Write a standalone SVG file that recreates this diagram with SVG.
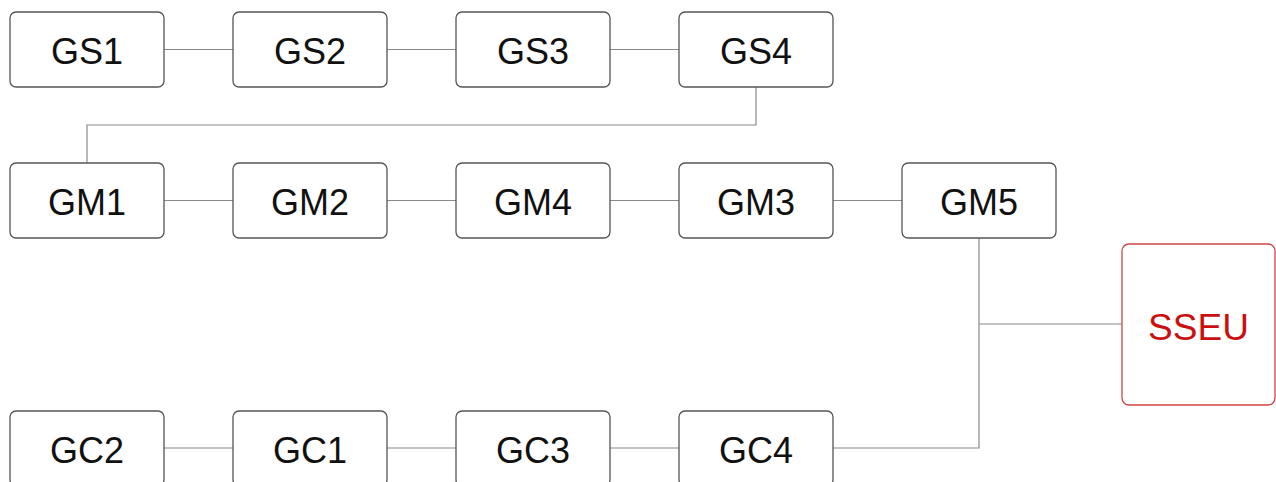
<svg xmlns="http://www.w3.org/2000/svg" width="1276" height="482" viewBox="0 0 1276 482">
<style>
.box{fill:#fff;stroke:#555;stroke-width:1.3}
.red{fill:#fff;stroke:#d04545;stroke-width:1.3}
.t{font-family:"Liberation Sans",Arial,sans-serif;font-size:36px;fill:#111;text-anchor:middle}
.tr{font-family:"Liberation Sans",Arial,sans-serif;font-size:37px;fill:#cc0e0e;text-anchor:middle}
.c{fill:none;stroke:#8a8a8a;stroke-width:1.2}
</style>
<rect width="1276" height="482" fill="#fff"/>
<g id="connectors">
<path class="c" d="M164 49.5H233M387 49.5H456M610 49.5H679"/>
<path class="c" d="M756 87V125H87V163"/>
<path class="c" d="M164 200.5H233M387 200.5H456M610 200.5H679M833 200.5H902"/>
<path class="c" d="M979 238V448H833M979 324H1122"/>
<path class="c" d="M164 448H233M387 448H456M610 448H679"/>
</g>
<g id="GS1"><rect class="box" x="10" y="12" width="154" height="75" rx="6"/><text class="t" x="87" y="64">GS1</text></g>
<g id="GS2"><rect class="box" x="233" y="12" width="154" height="75" rx="6"/><text class="t" x="310" y="64">GS2</text></g>
<g id="GS3"><rect class="box" x="456" y="12" width="154" height="75" rx="6"/><text class="t" x="533" y="64">GS3</text></g>
<g id="GS4"><rect class="box" x="679" y="12" width="154" height="75" rx="6"/><text class="t" x="756" y="64">GS4</text></g>
<g id="GM1"><rect class="box" x="10" y="163" width="154" height="75" rx="6"/><text class="t" x="87" y="215">GM1</text></g>
<g id="GM2"><rect class="box" x="233" y="163" width="154" height="75" rx="6"/><text class="t" x="310" y="215">GM2</text></g>
<g id="GM4"><rect class="box" x="456" y="163" width="154" height="75" rx="6"/><text class="t" x="533" y="215">GM4</text></g>
<g id="GM3"><rect class="box" x="679" y="163" width="154" height="75" rx="6"/><text class="t" x="756" y="215">GM3</text></g>
<g id="GM5"><rect class="box" x="902" y="163" width="154" height="75" rx="6"/><text class="t" x="979" y="215">GM5</text></g>
<g id="SSEU"><rect class="red" x="1122" y="244" width="153" height="161" rx="7"/><text class="tr" x="1198.5" y="340">SSEU</text></g>
<g id="GC2"><rect class="box" x="10" y="411" width="154" height="75" rx="6"/><text class="t" x="87" y="463">GC2</text></g>
<g id="GC1"><rect class="box" x="233" y="411" width="154" height="75" rx="6"/><text class="t" x="310" y="463">GC1</text></g>
<g id="GC3"><rect class="box" x="456" y="411" width="154" height="75" rx="6"/><text class="t" x="533" y="463">GC3</text></g>
<g id="GC4"><rect class="box" x="679" y="411" width="154" height="75" rx="6"/><text class="t" x="756" y="463">GC4</text></g>
</svg>
